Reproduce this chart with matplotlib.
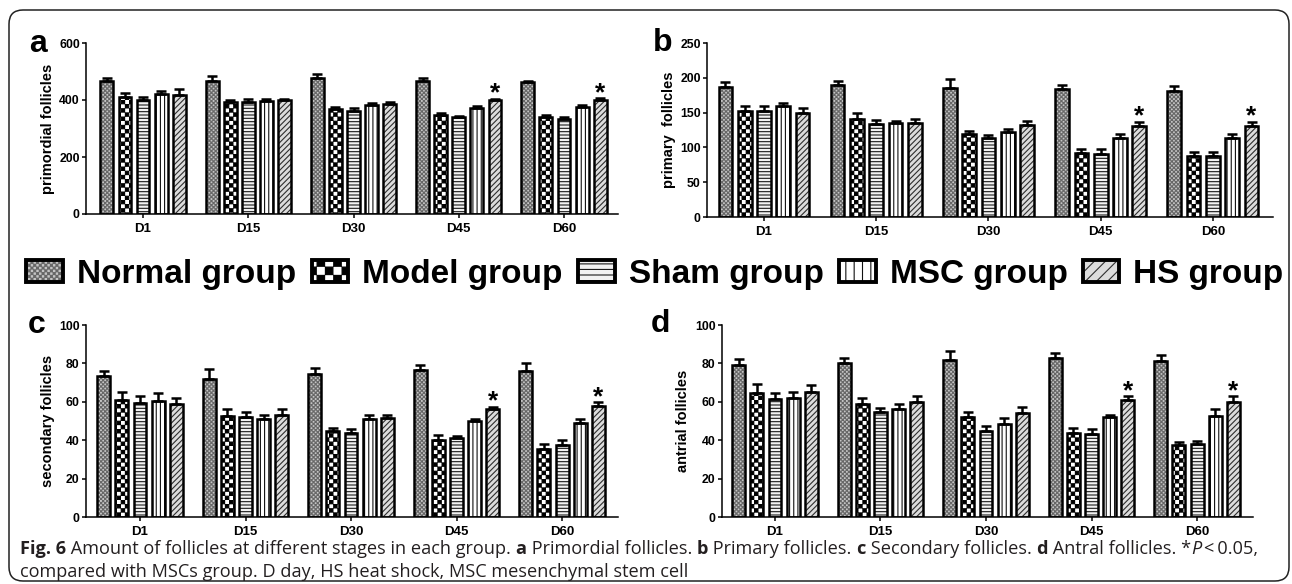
import matplotlib
matplotlib.use("Agg")
import matplotlib.pyplot as plt
import numpy as np
from matplotlib import hatch as mhatch
from matplotlib.path import Path
from matplotlib.patches import Patch, FancyBboxPatch
from matplotlib.transforms import IdentityTransform

# ---------------- data ----------------
days = ["D1", "D15", "D30", "D45", "D60"]
groups = ["Normal group", "Model group", "Sham group", "MSC group", "HS group"]
hs_significant = [False, False, False, True, True]

# a: primordial follicles
primordial_normal = [467, 468, 476, 468, 462]
primordial_model = [411, 392, 367, 348, 340]
primordial_sham = [401, 394, 360, 340, 332]
primordial_msc = [421, 396, 381, 372, 376]
primordial_hs = [418, 400, 387, 400, 400]
primordial_normal_err = [10, 17, 15, 8, 6]
primordial_model_err = [14, 7, 8, 6, 6]
primordial_sham_err = [9, 8, 11, 5, 9]
primordial_msc_err = [10, 7, 7, 6, 6]
primordial_hs_err = [19, 5, 6, 5, 6]

# b: primary follicles
primary_normal = [187, 189, 186, 184, 181]
primary_model = [152, 141, 119, 92, 88]
primary_sham = [152, 133, 114, 91, 88]
primary_msc = [160, 135, 122, 114, 113]
primary_hs = [149, 135, 132, 131, 131]
primary_normal_err = [7, 7, 12, 6, 7]
primary_model_err = [8, 8, 5, 5, 6]
primary_sham_err = [7, 7, 4, 6, 5]
primary_msc_err = [4, 3, 4, 5, 6]
primary_hs_err = [8, 6, 6, 6, 6]

# c: secondary follicles
secondary_normal = [73.5, 72, 74.5, 76.5, 76]
secondary_model = [61, 52.5, 45, 40, 35.5]
secondary_sham = [59.5, 52, 43.5, 41, 37.5]
secondary_msc = [60.5, 51, 51, 50, 49]
secondary_hs = [59, 53, 51.5, 56.5, 58]
secondary_normal_err = [2.5, 5, 3, 2.5, 4]
secondary_model_err = [4, 3.5, 1.5, 2.5, 2.5]
secondary_sham_err = [3.5, 2.5, 2.5, 1, 2.5]
secondary_msc_err = [4, 2, 2, 1, 2]
secondary_hs_err = [3, 3.5, 1.5, 1, 2]

# d: antral follicles
antral_normal = [79, 80, 82, 83, 81]
antral_model = [64.5, 59, 52, 43.5, 37.5]
antral_sham = [61.5, 54.5, 45, 43, 38]
antral_msc = [62, 56, 48.5, 52, 52.5]
antral_hs = [65, 60, 54, 61, 60]
antral_normal_err = [3.5, 3, 4.5, 2.5, 3.5]
antral_model_err = [5, 3, 2.5, 3, 1.5]
antral_sham_err = [3, 2.5, 2.5, 3, 1.5]
antral_msc_err = [3, 3, 3, 1, 4]
antral_hs_err = [3.5, 3, 3.5, 2, 3]

# ---------------- custom checkerboard hatch ----------------
class CheckerHatch(mhatch.HatchPatternBase):
    """Filled checkerboard; triggered by 'O' characters."""
    def __init__(self, hatch, density):
        n = int(hatch.count("O") * density)
        if n % 2:
            n += 1
        self.n = n
        self.num_vertices = (n * n // 2) * 5 if n > 0 else 0

    def set_vertices_and_codes(self, vertices, codes):
        n = self.n
        c = 1.0 / n
        ins = 0.004
        k = 0
        for i in range(n):
            for j in range(n):
                if (i + j) % 2 == 0:
                    x0, y0 = i * c + ins, j * c + ins
                    x1, y1 = (i + 1) * c - ins, (j + 1) * c - ins
                    vertices[k:k + 5] = [[x0, y0], [x1, y0], [x1, y1], [x0, y1], [x0, y0]]
                    codes[k:k + 5] = [Path.MOVETO, Path.LINETO, Path.LINETO,
                                      Path.LINETO, Path.CLOSEPOLY]
                    k += 5

mhatch._hatch_types = [t for t in mhatch._hatch_types
                       if t.__name__ != "LargeCircles"] + [CheckerHatch]

plt.rcParams["hatch.linewidth"] = 0.8
plt.rcParams["font.family"] = ["Liberation Sans", "DejaVu Sans"]

W, H = 1292, 584
fig = plt.figure(figsize=(W / 100, H / 100), dpi=100)

face_colors = ["#c4c4c4", "white", "#f2f2f2", "white", "#dcdcdc"]
hatch_colors = ["#666666", "black", "#1a1a1a", "#111111", "#2e2e2e"]
hatches = ["OOOOOOOO", "OOOO", "-----", "||||", "//////"]
legend_hatches = ["OOOOOO", "OO", "---", "||", "///"]

step = 0.172
bw = 0.122
edge_lw = 1.8


def px_axes(l, t, r, b):
    return [l / W, 1 - b / H, (r - l) / W, (b - t) / H]


def draw_panel(rect, xlim, means, errs, ylim, yticks, ylabel, label_dx):
    ax = fig.add_axes(rect)
    x = np.arange(len(days))
    for g in range(len(groups)):
        xs = x + (g - 2) * step
        ax.bar(xs, means[g], width=bw, color=face_colors[g], edgecolor=hatch_colors[g],
               hatch=hatches[g], linewidth=0, zorder=2)
        ax.errorbar(xs, means[g], yerr=[np.zeros(len(days)), errs[g]], fmt="none",
                    ecolor="black", elinewidth=1.8, capsize=3.3, capthick=1.8, zorder=2.5)
        ax.bar(xs, means[g], width=bw, facecolor="none", edgecolor="black",
               linewidth=edge_lw, zorder=3)
    xs_hs = x + 2 * step
    for i in range(len(days)):
        if hs_significant[i]:
            ax.annotate("*", (xs_hs[i], means[4][i] + errs[4][i]), xytext=(0, -1.5),
                        textcoords="offset points", ha="center", va="baseline",
                        fontsize=19, fontweight="bold", zorder=4)
    ax.set_xlim(*xlim)
    ax.set_ylim(*ylim)
    ax.set_yticks(yticks)
    ax.set_xticks(x)
    ax.set_xticklabels(days, fontsize=9.5, fontweight="bold")
    ax.set_yticklabels([str(v) for v in yticks], fontsize=8.8, fontweight="bold")
    for s in ["top", "right"]:
        ax.spines[s].set_visible(False)
    for s in ["left", "bottom"]:
        ax.spines[s].set_linewidth(1.1)
    ax.tick_params(axis="both", direction="out", length=3, width=1.1)
    ax.tick_params(axis="y", pad=1.5)
    ax.tick_params(axis="x", pad=3.5)
    ax.set_ylabel(ylabel, fontsize=10.5, fontweight="bold", va="center")
    ax.yaxis.set_label_coords(-label_dx / (rect[2] * W), 0.5)
    return ax


panels = [
    (px_axes(86, 43, 618, 214), (-0.542, 4.513),
     [primordial_normal, primordial_model, primordial_sham, primordial_msc, primordial_hs],
     [primordial_normal_err, primordial_model_err, primordial_sham_err, primordial_msc_err, primordial_hs_err],
     (0, 600), [0, 200, 400, 600], "primordial follicles", 38),
    (px_axes(707, 43, 1273, 217), (-0.508, 4.535),
     [primary_normal, primary_model, primary_sham, primary_msc, primary_hs],
     [primary_normal_err, primary_model_err, primary_sham_err, primary_msc_err, primary_hs_err],
     (0, 250), [0, 50, 100, 150, 200, 250], "primary  follicles", 38),
    (px_axes(86, 325, 618, 517), (-0.512, 4.53),
     [secondary_normal, secondary_model, secondary_sham, secondary_msc, secondary_hs],
     [secondary_normal_err, secondary_model_err, secondary_sham_err, secondary_msc_err, secondary_hs_err],
     (0, 100), [0, 20, 40, 60, 80, 100], "secondary follicles", 38),
    (px_axes(722, 325, 1253, 517), (-0.502, 4.53),
     [antral_normal, antral_model, antral_sham, antral_msc, antral_hs],
     [antral_normal_err, antral_model_err, antral_sham_err, antral_msc_err, antral_hs_err],
     (0, 100), [0, 20, 40, 60, 80, 100], "antrial follicles", 39),
]
for p in panels:
    draw_panel(*p)

# panel letters
for letter, (lx, ly) in zip("abcd", [(29, 52), (653, 51), (28, 333), (651, 332)]):
    fig.text(lx, H - ly, letter, transform=IdentityTransform(), fontsize=23,
             fontweight="bold", ha="left", va="baseline")

# legend
handles = []
for g in range(len(groups)):
    fill = Patch(facecolor=face_colors[g], edgecolor=hatch_colors[g],
                 hatch=legend_hatches[g], linewidth=0)
    edge = Patch(facecolor="none", edgecolor="black", linewidth=2.8)
    handles.append((fill, edge))
fig.legend(handles, groups, loc="center", bbox_to_anchor=(655 / W, 1 - 274 / H),
           ncol=5, frameon=False, prop={"size": 24, "weight": "bold"},
           handlelength=1.1, handleheight=0.62, handletextpad=0.42,
           columnspacing=0.46, borderpad=0, borderaxespad=0)

# outer rounded frame
frame = FancyBboxPatch((9, 3), W - 12, H - 13, boxstyle="round,pad=0,rounding_size=14",
                       transform=IdentityTransform(), facecolor="none",
                       edgecolor="#222222", linewidth=1.1)
fig.patches.append(frame)

# caption (mixed bold / regular / italic runs)
renderer = fig.canvas.get_renderer()
cap_font = ["Open Sans", "DejaVu Sans"]
cap_size = 13.1
cap_color = "#231f20"


def text_advance(s, **kw):
    t1 = fig.text(0, 0, s + "|", transform=IdentityTransform(), **kw)
    t2 = fig.text(0, 0, "|", transform=IdentityTransform(), **kw)
    w = t1.get_window_extent(renderer).width - t2.get_window_extent(renderer).width
    t1.remove()
    t2.remove()
    return w


def draw_runs(x, y, runs):
    for s, weight, style in runs:
        kw = dict(fontsize=cap_size, family=cap_font, fontweight=weight,
                  fontstyle=style, color=cap_color)
        fig.text(x, H - y, s, transform=IdentityTransform(), ha="left",
                 va="baseline", **kw)
        x += text_advance(s, **kw)


line1 = [("Fig. 6", "bold", "normal"),
         (" Amount of follicles at different stages in each group. ", "normal", "normal"),
         ("a", "bold", "normal"), (" Primordial follicles. ", "normal", "normal"),
         ("b", "bold", "normal"), (" Primary follicles. ", "normal", "normal"),
         ("c", "bold", "normal"), (" Secondary follicles. ", "normal", "normal"),
         ("d", "bold", "normal"), (" Antral follicles. *", "normal", "normal"),
         ("P", "normal", "italic"), ("\u2009<\u20090.05,", "normal", "normal")]
line2 = [("compared with MSCs group. D day, HS heat shock, MSC mesenchymal stem cell",
          "normal", "normal")]
draw_runs(20, 554, line1)
draw_runs(20, 577, line2)

fig.savefig("out.png", dpi=100)
